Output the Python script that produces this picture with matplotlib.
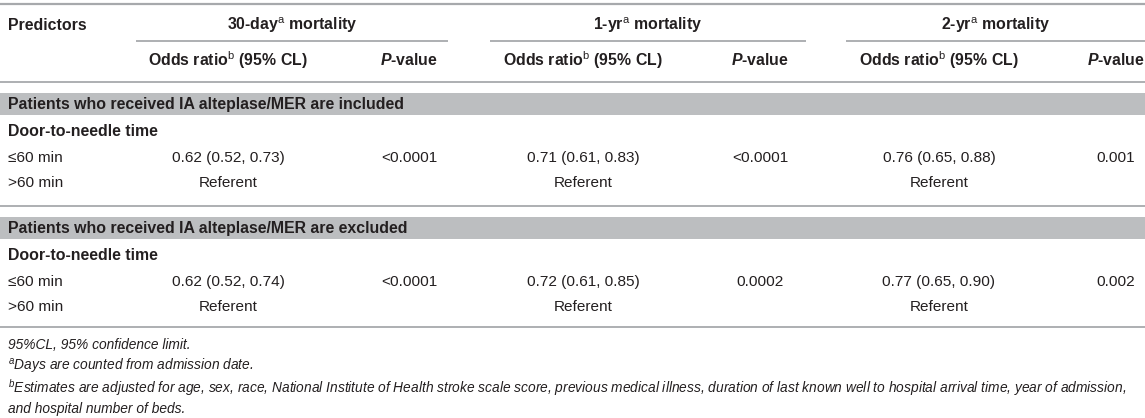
import matplotlib
matplotlib.use('Agg')
import matplotlib.pyplot as plt

plt.rcParams['font.family'] = ['Liberation Sans', 'DejaVu Sans']
plt.rcParams['mathtext.fontset'] = 'custom'
plt.rcParams['mathtext.rm'] = 'Liberation Sans'
plt.rcParams['mathtext.it'] = 'Liberation Sans:italic'
plt.rcParams['mathtext.bf'] = 'Liberation Sans:bold'
plt.rcParams['mathtext.bfit'] = 'Liberation Sans:italic:bold'

# Data
groups = ['30-day', '1-yr', '2-yr']
sections = ['Patients who received IA alteplase/MER are included',
            'Patients who received IA alteplase/MER are excluded']
predictor = 'Door-to-needle time'
levels = ['\u226460 min', '>60 min']
or_included = ['0.62 (0.52, 0.73)', '0.71 (0.61, 0.83)', '0.76 (0.65, 0.88)']
p_included = ['<0.0001', '<0.0001', '0.001']
or_excluded = ['0.62 (0.52, 0.74)', '0.72 (0.61, 0.85)', '0.77 (0.65, 0.90)']
p_excluded = ['<0.0001', '0.0002', '0.002']
referent = 'Referent'
footnotes = [
    '95%CL, 95% confidence limit.',
    '$^{a}$Days are counted from admission date.',
    '$^{b}$Estimates are adjusted for age, sex, race, National Institute of Health stroke scale score, '
    'previous medical illness, duration of last known well to hospital arrival time, year of admission,',
    'and hospital number of beds.',
]

# layout (pixel space)
W, H = 1145, 418
fs_b = 11.4   # bold
fs = 11.1     # regular
fs_note = 9.95
txt = '#231f20'
rule = '#a7a9ac'
band = '#bcbec0'
or_x = [228, 583, 939]
p_x = [409, 760, 1116]
span = [(136, 448), (490, 806), (846, 1145)]

fig = plt.figure(figsize=(W / 100, H / 100), dpi=100)
ax = fig.add_axes([0, 0, 1, 1])
ax.set_xlim(0, W)
ax.set_ylim(H, 0)
ax.axis('off')

def hline(y, x0=0, x1=W, lw=1.3):
    ax.plot([x0, x1], [y, y], color=rule, lw=lw, solid_capstyle='butt')

# header
hline(4, lw=1.6)
ax.text(8, 25, 'Predictors', fontsize=fs_b, fontweight='bold', color=txt, va='center')
for i, g in enumerate(groups):
    ax.text((span[i][0] + span[i][1]) / 2, 25, g + '$^{\\mathrm{a}}$ mortality',
            fontsize=fs_b, fontweight='bold', color=txt, ha='center', va='center')
    hline(41, span[i][0], span[i][1])
    ax.text(or_x[i], 60, 'Odds ratio$^{\\mathrm{b}}$ (95% CL)', fontsize=fs_b,
            fontweight='bold', color=txt, ha='center', va='center')
    ax.text(p_x[i], 60, '$\\mathbfit{P}$-value', fontsize=fs_b, fontweight='bold',
            color=txt, ha='center', va='center')
hline(82)

# body
blocks = [(or_included, p_included), (or_excluded, p_excluded)]
for s, (ors, ps) in enumerate(blocks):
    y0 = 104 + s * 124
    ax.fill_between([0, W], y0 - 11, y0 + 11, color=band, lw=0)
    ax.text(8, y0, sections[s], fontsize=fs_b, fontweight='bold', color=txt, va='center')
    ax.text(8, y0 + 28, predictor, fontsize=fs_b, fontweight='bold', color=txt, va='center')
    y1, y2 = y0 + 54, y0 + 79
    ax.text(8, y1, levels[0], fontsize=fs, color=txt, va='center')
    ax.text(8, y2, levels[1], fontsize=fs, color=txt, va='center')
    for i in range(len(groups)):
        ax.text(or_x[i], y1, ors[i], fontsize=fs, color=txt, ha='center', va='center')
        ax.text(p_x[i], y1, ps[i], fontsize=fs, color=txt, ha='center', va='center')
        ax.text(or_x[i], y2, referent, fontsize=fs, color=txt, ha='center', va='center')
    hline(y0 + 102 - s * 3)

# footnotes
for k, note in enumerate(footnotes):
    ax.text(8, 345 + k * 21.2, note, fontsize=fs_note, style='italic', color=txt,
            va='center')

fig.savefig('out.png', dpi=100)
